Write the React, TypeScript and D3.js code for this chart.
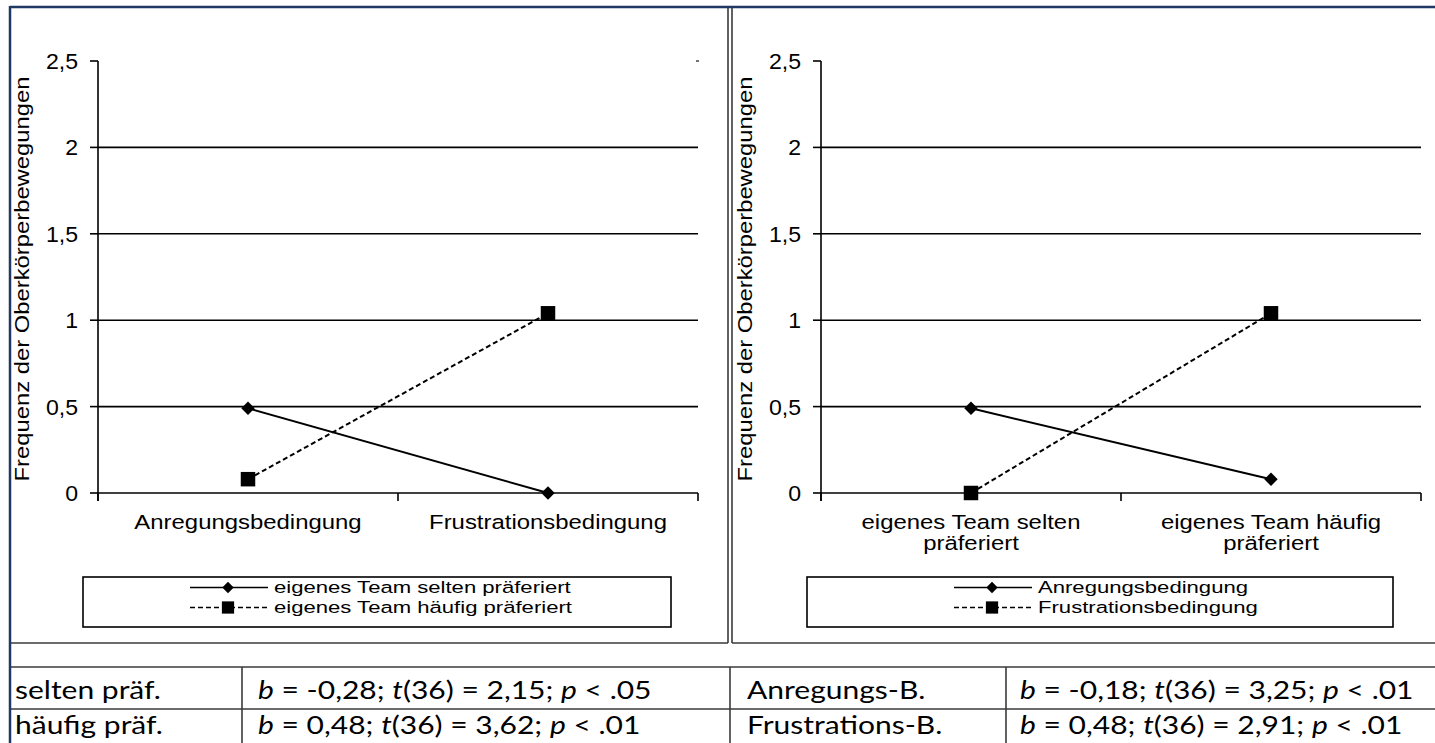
import React from 'react';
import * as d3 from 'd3';

// y axis (shared by both panels)
const yTicks = [0, 0.5, 1, 1.5, 2, 2.5];
const yTickLabels = ['0', '0,5', '1', '1,5', '2', '2,5'];
const yTitle = 'Frequenz der Oberkörperbewegungen';

// left panel
const leftCategories = [['Anregungsbedingung'], ['Frustrationsbedingung']];
const leftNames = ['eigenes Team selten präferiert', 'eigenes Team häufig präferiert'];
const leftSelten = [0.49, 0.0];
const leftHaeufig = [0.08, 1.04];

// right panel
const rightCategories = [['eigenes Team selten', 'präferiert'], ['eigenes Team häufig', 'präferiert']];
const rightNames = ['Anregungsbedingung', 'Frustrationsbedingung'];
const rightAnregung = [0.49, 0.08];
const rightFrustration = [0.0, 1.04];

// table below
const tableLeftLabels = ['selten präf.', 'häufig präf.'];
const tableLeftB = ['-0,28', '0,48'];
const tableLeftT = ['2,15', '3,62'];
const tableLeftP = ['.05', '.01'];
const tableRightLabels = ['Anregungs-B.', 'Frustrations-B.'];
const tableRightB = ['-0,18', '0,48'];
const tableRightT = ['3,25', '2,91'];
const tableRightP = ['.01', '.01'];

const W = 1435;
const H = 743;
const chartFont = '"Liberation Sans", Arial, sans-serif';
const tableFont = 'Lato, "Open Sans", sans-serif';

const diamond = d3.symbol().type(d3.symbolSquare).size(90)();
const square = d3.symbol().type(d3.symbolSquare).size(210)();
const legendSquare = d3.symbol().type(d3.symbolSquare).size(150)();

// the pasted chart picture is a bit wider than tall, so text is stretched sideways
function Txt({ x, y, sx, size, anchor, children }: any) {
  return (
    <text transform={`translate(${x},${y}) scale(${sx},1)`} fontSize={size} textAnchor={anchor || 'start'}>
      {children}
    </text>
  );
}

function Marker({ kind, x, y, small }: { kind: string; x: number; y: number; small?: boolean }) {
  if (kind === 'diamond') {
    return <path d={diamond || ''} transform={`translate(${x},${y}) rotate(45)${small ? ' scale(0.85)' : ''}`} fill="#000" />;
  }
  return <path d={(small ? legendSquare : square) || ''} transform={`translate(${x},${y})`} fill="#000" />;
}

function Panel({ axisX, cats, names, series, legendBox, legendStart, cornerDot }: any) {
  const x = d3.scaleBand<number>().domain(d3.range(cats.length)).range([axisX, axisX + 600]);
  const y = d3.scaleLinear().domain([0, 2.5]).range([493, 61]);
  const cx = (i: number) => (x(i) as number) + x.bandwidth() / 2;
  const line = d3.line<number>().x((_, i) => cx(i)).y(d => y(d));
  const styles = [
    { dash: undefined, marker: 'diamond' },
    { dash: '5,3', marker: 'square' },
  ];
  const tickEdges = [axisX, ...d3.range(cats.length).map(i => (x(i) as number) + x.bandwidth())];

  return (
    <g fontFamily={chartFont}>
      {/* gridlines */}
      {yTicks.filter(t => t > 0 && t < 2.5).map(t => (
        <line key={t} x1={axisX} x2={axisX + 600} y1={y(t)} y2={y(t)} stroke="#000" strokeWidth={1.6} />
      ))}
      {cornerDot && <line x1={axisX + 598} x2={axisX + 601} y1={y(2.5)} y2={y(2.5)} stroke="#444" strokeWidth={1.5} />}
      {/* y axis */}
      <line x1={axisX} x2={axisX} y1={y(2.5)} y2={y(0) + 8} stroke="#000" strokeWidth={1.6} />
      {yTicks.map((t, i) => (
        <g key={t}>
          <line x1={axisX - 8} x2={axisX} y1={y(t)} y2={y(t)} stroke="#000" strokeWidth={1.6} />
          <Txt x={axisX - 20} y={y(t) + 8} sx={1.05} size={22} anchor="end">{yTickLabels[i]}</Txt>
        </g>
      ))}
      <text
        transform={`translate(${axisX - 76},${(y(0) + y(2.5)) / 2 + 2}) rotate(-90) scale(1,1.3)`}
        textAnchor="middle" dy="0.35em" fontSize={16}
        textLength={405} lengthAdjust="spacingAndGlyphs"
      >{yTitle}</text>
      {/* x axis */}
      <line x1={axisX} x2={axisX + 600} y1={y(0)} y2={y(0)} stroke="#000" strokeWidth={1.6} />
      {tickEdges.map(e => (
        <line key={e} x1={e} x2={e} y1={y(0)} y2={y(0) + 8} stroke="#000" strokeWidth={1.6} />
      ))}
      {cats.map((c: string[], i: number) => (
        <g key={i}>
          {c.map((l, j) => (
            <Txt key={j} x={cx(i)} y={529 + j * 21} sx={1.24} size={19.3} anchor="middle">{l}</Txt>
          ))}
        </g>
      ))}
      {/* series */}
      {series.map((s: number[], k: number) => (
        <g key={k}>
          <path d={line(s) || ''} fill="none" stroke="#000" strokeWidth={2} strokeDasharray={styles[k].dash} />
          {s.map((v, i) => <Marker key={i} kind={styles[k].marker} x={cx(i)} y={y(v)} />)}
        </g>
      ))}
      {/* legend */}
      <rect x={legendBox[0]} y={577} width={legendBox[1] - legendBox[0]} height={50} fill="none" stroke="#000" strokeWidth={1.6} />
      {names.map((n: string, k: number) => {
        const base = 593 + k * 20;
        const ly = base - 5.5;
        return (
          <g key={k}>
            <line x1={legendStart} x2={legendStart + 78} y1={ly} y2={ly} stroke="#000" strokeWidth={1.6} strokeDasharray={styles[k].dash} />
            <Marker kind={styles[k].marker} x={legendStart + 38} y={ly} small />
            <Txt x={legendStart + 84} y={base} sx={1.3} size={17}>{n}</Txt>
          </g>
        );
      })}
    </g>
  );
}

// table text is a little wider than the font's natural width
function TableText({ x, y, children }: any) {
  return (
    <text transform={`translate(${x},${y}) scale(1.2,1)`} fontSize={25} fontFamily={tableFont}>
      {children}
    </text>
  );
}

function Stat({ b, t, p }: any) {
  return (
    <>
      <tspan fontStyle="italic">b</tspan>{` = ${b}; `}
      <tspan fontStyle="italic">t</tspan>{`(36) = ${t}; `}
      <tspan fontStyle="italic">p</tspan>{` < ${p}`}
    </>
  );
}

export default function App() {
  const rowBase = [699, 734];
  const grey = '#3a3a3a';
  return (
    <svg width={W} height={H} style={{ position: 'absolute', left: 0, top: 0, background: '#fff' }}>
      <rect x={0} y={0} width={W} height={H} fill="#fff" />
      {/* frame */}
      <line x1={10} x2={W} y1={7} y2={7} stroke="#1f3864" strokeWidth={2.5} />
      <line x1={10} x2={10} y1={6} y2={H} stroke="#1f3864" strokeWidth={2.5} />
      <line x1={728} x2={728} y1={8} y2={643} stroke={grey} strokeWidth={1.6} />
      <line x1={732} x2={732} y1={8} y2={643} stroke={grey} strokeWidth={1.6} />
      <line x1={11} x2={728} y1={643} y2={643} stroke={grey} strokeWidth={1.6} />
      <line x1={732} x2={W} y1={643} y2={643} stroke={grey} strokeWidth={1.6} />

      <Panel axisX={98} cats={leftCategories} names={leftNames} cornerDot
        series={[leftSelten, leftHaeufig]} legendBox={[83, 671]} legendStart={190} />
      <Panel axisX={821} cats={rightCategories} names={rightNames}
        series={[rightAnregung, rightFrustration]} legendBox={[807, 1393]} legendStart={954} />

      {/* table */}
      <line x1={11} x2={W} y1={667} y2={667} stroke={grey} strokeWidth={1.6} />
      <line x1={11} x2={W} y1={709} y2={709} stroke={grey} strokeWidth={1.6} />
      {[242, 730, 1006].map(cx => (
        <line key={cx} x1={cx} x2={cx} y1={667} y2={H} stroke={grey} strokeWidth={1.6} />
      ))}
      {tableLeftLabels.map((l, i) => (
        <g key={l}>
          <TableText x={15} y={rowBase[i]}>{l}</TableText>
          <TableText x={258} y={rowBase[i]}>
            <Stat b={tableLeftB[i]} t={tableLeftT[i]} p={tableLeftP[i]} />
          </TableText>
        </g>
      ))}
      {tableRightLabels.map((l, i) => (
        <g key={l}>
          <TableText x={747} y={rowBase[i]}>{l}</TableText>
          <TableText x={1020} y={rowBase[i]}>
            <Stat b={tableRightB[i]} t={tableRightT[i]} p={tableRightP[i]} />
          </TableText>
        </g>
      ))}
    </svg>
  );
}
